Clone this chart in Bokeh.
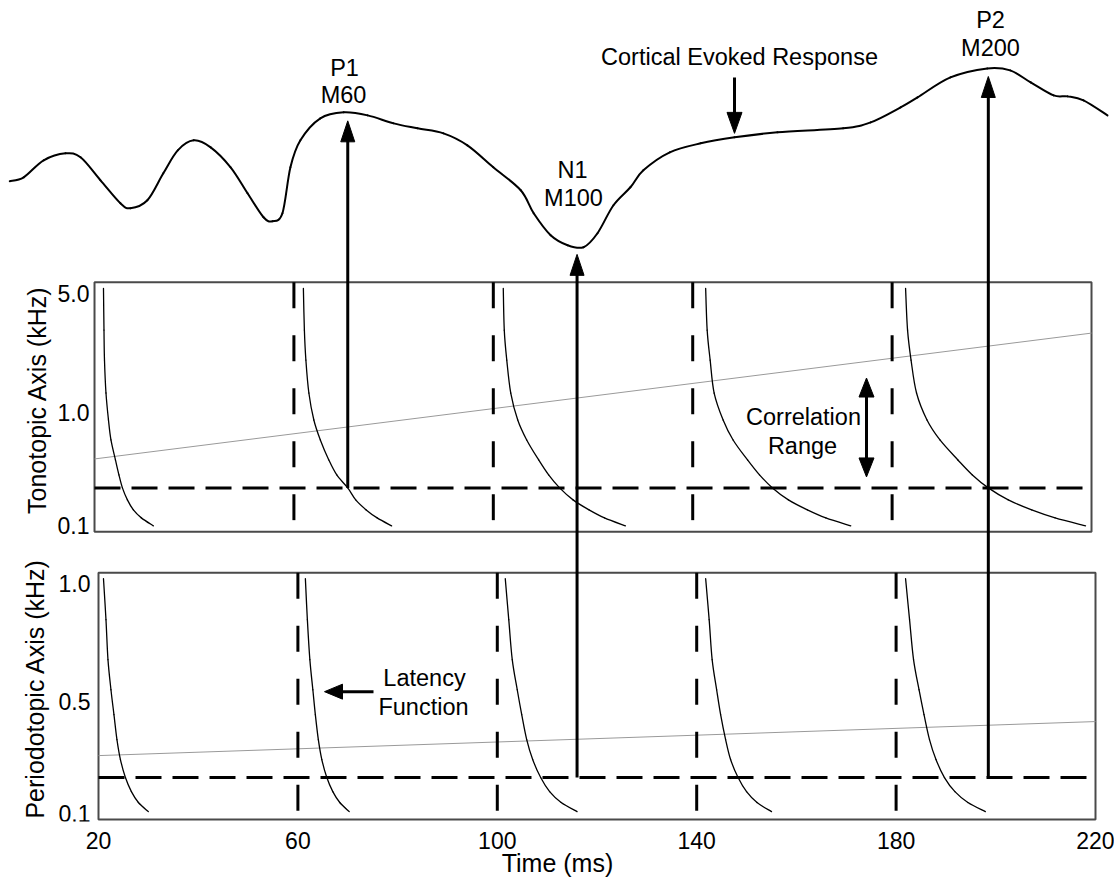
import numpy as np
from bokeh.plotting import figure
from bokeh.models import Range1d, FixedTicker
from bokeh.core.properties import value
from bokeh.embed import file_html
from bokeh.resources import INLINE

# ---------------- data ----------------
TIME_TICKS = [20, 60, 100, 140, 180, 220]
STIM_ONSETS = [60, 100, 140, 180]
TONO_TICK_LABELS = ["0.1", "1.0", "5.0"]
PERIO_TICK_LABELS = ["0.1", "0.5", "1.0"]
TONO_TITLE = "Tonotopic Axis (kHz)"
PERIO_TITLE = "Periodotopic Axis (kHz)"
TIME_TITLE = "Time (ms)"

# cortical evoked response (time in ms, amplitude in arbitrary units)
ERP_T = [2.2, 5.0, 9.0, 13.4, 16.4, 20.4, 24.4, 26.4, 29.8, 33.0, 35.9, 39.1, 42.5,
         46.5, 49.9, 53.1, 54.9, 56.9, 58.5, 60.5, 64.5, 69.2, 74.0, 79.2, 84.0,
         89.2, 94.0, 99.2, 104.7, 107.3, 110.7, 114.1, 117.3, 120.1, 123.3, 126.7,
         129.3, 134.6, 140.8, 147.6, 156.2, 169.4, 174.9, 180.9, 184.3, 190.9,
         198.3, 202.9, 207.0, 211.6, 214.4, 217.6, 222.4]
ERP_AMP = [1.9, 2.3, 4.0, 4.7, 4.3, 2.0, -0.3, -0.8, 0.0, 2.7, 5.0, 6.0, 5.3,
           3.3, 0.7, -1.7, -2.1, -1.3, 3.3, 6.0, 8.2, 8.8, 8.5, 7.7, 7.2,
           6.7, 5.5, 3.3, 1.0, -1.3, -3.5, -4.5, -4.7, -3.3, -0.5, 1.3,
           3.0, 4.8, 5.7, 6.3, 6.8, 7.2, 7.8, 9.3, 10.3, 12.3,
           13.2, 13.0, 11.8, 10.5, 10.4, 10.0, 8.5]

# peaks of the evoked response
PEAK_NAMES = ["P1", "N1", "P2"]
PEAK_MEG = ["M60", "M100", "M200"]
PEAK_TIMES = [70.0, 116.0, 198.5]
PEAK_SOURCE = ["tono", "perio", "perio"]

# latency functions: panel-relative level (0 bottom .. 1 top) vs latency (ms)
TONO_LEVELS = [0.975, 0.808, 0.688, 0.556, 0.448, 0.368, 0.288, 0.228, 0.176, 0.128, 0.088, 0.056, 0.024]
TONO_LAT_1 = [21.0, 21.1, 21.2, 21.5, 22.0, 22.5, 23.4, 24.1, 24.8, 25.8, 27.0, 28.6, 31.0]
TONO_LAT_2 = [61.1, 61.3, 61.6, 62.2, 63.2, 64.5, 66.2, 67.8, 70.0, 71.6, 73.7, 75.9, 78.8]
TONO_LAT_3 = [101.2, 101.4, 101.9, 102.7, 104.1, 105.9, 108.3, 110.3, 112.5, 115.2, 118.4, 121.5, 125.7]
TONO_LAT_4 = [141.8, 142.1, 142.7, 143.5, 145.3, 147.3, 150.2, 152.6, 155.2, 158.4, 162.2, 165.9, 170.9]
TONO_LAT_5 = [181.9, 182.3, 183.0, 184.1, 186.2, 188.8, 192.4, 195.3, 198.5, 202.5, 207.2, 211.9, 218.0]

PERIO_LEVELS = [0.976, 0.810, 0.648, 0.526, 0.425, 0.324, 0.243, 0.170, 0.113, 0.069, 0.032]
PERIO_LAT_1 = [21.0, 21.5, 21.9, 22.5, 23.1, 23.7, 24.4, 25.4, 26.6, 28.0, 30.0]
PERIO_LAT_2 = [61.5, 61.9, 62.4, 63.0, 63.5, 64.1, 64.8, 65.8, 67.0, 68.4, 70.3]
PERIO_LAT_3 = [101.6, 102.3, 103.0, 104.0, 104.9, 105.9, 107.1, 108.7, 110.5, 112.8, 116.0]
PERIO_LAT_4 = [141.8, 142.5, 143.1, 144.0, 144.8, 145.8, 146.8, 148.3, 150.0, 152.1, 155.0]
PERIO_LAT_5 = [181.9, 182.7, 183.5, 184.6, 185.6, 186.7, 188.0, 189.7, 191.8, 194.4, 197.9]

TONO_REF_LEVEL = 0.176
PERIO_REF_LEVEL = 0.170
TONO_TREND_T = [20, 220]
TONO_TREND_L = [0.292, 0.796]
PERIO_TREND_T = [20, 220]
PERIO_TREND_L = [0.259, 0.397]

# ---------------- layout (figure units: 1 y-unit = 1 px) ----------------
W, H = 1114, 879
BOTTOM = 57
FRAME_H = H - BOTTOM
PX_PER_MS = 4.985
X0 = 20 - 98 / PX_PER_MS
X1 = X0 + W / PX_PER_MS

ERP_Y0, ERP_K = FRAME_H - 200, 10.0
TONO_B, TONO_H, TONO_DX = FRAME_H - 532, 250, -0.8
PERIO_B, PERIO_H = FRAME_H - 820, 247
TICK_POS = [0.025, 0.477, 0.955]
FONT = value("Liberation Sans")


def ty(levels):
    return [TONO_B + l * TONO_H for l in levels]


def py(levels):
    return [PERIO_B + l * PERIO_H for l in levels]


def ey(amps):
    return [ERP_Y0 + a * ERP_K for a in amps]


def sy(pix):  # screen-pixel row -> figure units
    return FRAME_H - pix


def ms(pix):  # screen-pixel column -> ms
    return X0 + pix / PX_PER_MS


def smooth(fig, xs, ys, **kw):
    """Draw a smooth curve through the points with cubic Bezier segments."""
    x = np.asarray(xs, float)
    y = np.asarray(ys, float)
    xp = np.concatenate([[x[0]], x, [x[-1]]])
    yp = np.concatenate([[y[0]], y, [y[-1]]])
    n = len(x) - 1
    x0, y0, x1, y1 = x[:-1], y[:-1], x[1:], y[1:]
    cx0 = x0 + (xp[2:n + 2] - xp[0:n]) / 6.0
    cy0 = y0 + (yp[2:n + 2] - yp[0:n]) / 6.0
    cx1 = x1 - (xp[3:n + 3] - xp[1:n + 1]) / 6.0
    cy1 = y1 - (yp[3:n + 3] - yp[1:n + 1]) / 6.0
    fig.bezier(x0=x0, y0=y0, x1=x1, y1=y1, cx0=cx0, cy0=cy0, cx1=cx1, cy1=cy1,
               line_cap="round", **kw)


p = figure(width=W, height=H, output_backend="svg", toolbar_location=None,
           x_range=Range1d(X0, X1), y_range=Range1d(0, FRAME_H),
           y_axis_location=None, min_border_left=0, min_border_right=0,
           min_border_top=0, min_border_bottom=BOTTOM,
           background_fill_color="white", border_fill_color="white")
p.outline_line_color = None
p.grid.grid_line_color = None

ax = p.xaxis[0]
ax.ticker = FixedTicker(ticks=TIME_TICKS)
ax.axis_line_color = None
ax.major_tick_line_color = None
ax.minor_tick_line_color = None
ax.major_tick_out = 0
ax.major_tick_in = 0
ax.major_label_text_font = "Liberation Sans"
ax.major_label_text_font_size = "23px"
ax.major_label_text_color = "black"
ax.major_label_standoff = 10
ax.axis_label = TIME_TITLE
ax.axis_label_text_font = "Liberation Sans"
ax.axis_label_text_font_size = "25px"
ax.axis_label_text_font_style = "normal"
ax.axis_label_text_color = "black"
ax.axis_label_standoff = -3

# panel boxes
p.quad(left=[TIME_TICKS[0] + TONO_DX, TIME_TICKS[0]], right=[TIME_TICKS[-1] + TONO_DX, TIME_TICKS[-1]],
       bottom=[TONO_B, PERIO_B], top=[TONO_B + TONO_H, PERIO_B + PERIO_H],
       fill_color=None, line_color="#4a4a4a", line_width=2)

# trend lines (gray)
p.line([t + TONO_DX for t in TONO_TREND_T], ty(TONO_TREND_L), line_color="#9a9a9a", line_width=1)
p.line(PERIO_TREND_T, py(PERIO_TREND_L), line_color="#9a9a9a", line_width=1)

# dashed stimulus markers
p.multi_line([[t + TONO_DX, t + TONO_DX] for t in STIM_ONSETS],
             [[TONO_B + TONO_H, TONO_B] for _ in STIM_ONSETS],
             line_color="black", line_width=3, line_dash="26 27")
p.multi_line([[t, t] for t in STIM_ONSETS],
             [[PERIO_B + PERIO_H, PERIO_B] for _ in STIM_ONSETS],
             line_color="black", line_width=3, line_dash="26 27")
# dashed reference levels
p.line([TIME_TICKS[0] + TONO_DX, TIME_TICKS[-1] + TONO_DX], ty([TONO_REF_LEVEL] * 2),
       line_color="black", line_width=3, line_dash="26 11")
p.line([TIME_TICKS[0], TIME_TICKS[-1]], py([PERIO_REF_LEVEL] * 2),
       line_color="black", line_width=3, line_dash="26 11")

# latency functions
for lat in [TONO_LAT_1, TONO_LAT_2, TONO_LAT_3, TONO_LAT_4, TONO_LAT_5]:
    smooth(p, lat, ty(TONO_LEVELS), line_color="black", line_width=1.3)
for lat in [PERIO_LAT_1, PERIO_LAT_2, PERIO_LAT_3, PERIO_LAT_4, PERIO_LAT_5]:
    smooth(p, lat, py(PERIO_LEVELS), line_color="black", line_width=1.3)

# evoked response
smooth(p, ERP_T, ey(ERP_AMP), line_color="black", line_width=2)


# arrows
def head(tip_x, tip_y, direction, length=21, width=14):
    hw = width / 2.0
    if direction == "up":
        return [tip_x - hw / PX_PER_MS, tip_x + hw / PX_PER_MS, tip_x], [tip_y - length, tip_y - length, tip_y]
    if direction == "down":
        return [tip_x - hw / PX_PER_MS, tip_x + hw / PX_PER_MS, tip_x], [tip_y + length, tip_y + length, tip_y]
    return [tip_x + length / PX_PER_MS, tip_x + length / PX_PER_MS, tip_x], [tip_y - hw, tip_y + hw, tip_y]


hx, hy = [], []
sx0, sy0, sx1, sy1 = [], [], [], []
peak_amp = np.interp(PEAK_TIMES, ERP_T, ERP_AMP)
for t, a, src in zip(PEAK_TIMES, peak_amp, PEAK_SOURCE):
    base = ty([TONO_REF_LEVEL])[0] if src == "tono" else py([PERIO_REF_LEVEL])[0]
    tip = ey([a])[0] - 8
    sx0.append(t); sy0.append(base); sx1.append(t); sy1.append(tip - 10)
    xs, ys = head(t, tip, "up")
    hx.append(xs); hy.append(ys)

# "Cortical Evoked Response" pointer
ce_t = ms(734)
ce_tip = ey([np.interp(ce_t, ERP_T, ERP_AMP)])[0] + 4
sx0.append(ce_t); sy0.append(sy(77)); sx1.append(ce_t); sy1.append(ce_tip + 10)
xs, ys = head(ce_t, ce_tip, "down", 21, 15); hx.append(xs); hy.append(ys)

# correlation range double arrow
cr_t = ms(866)
sx0.append(cr_t); sy0.append(sy(378) - 10); sx1.append(cr_t); sy1.append(sy(477) + 10)
xs, ys = head(cr_t, sy(378), "up", 19, 15); hx.append(xs); hy.append(ys)
xs, ys = head(cr_t, sy(477), "down", 19, 15); hx.append(xs); hy.append(ys)

# latency function pointer
lf_tip = ms(324)
sx0.append(ms(373)); sy0.append(sy(692)); sx1.append(lf_tip + 10 / PX_PER_MS); sy1.append(sy(692))
xs, ys = head(lf_tip, sy(692), "left", 18, 15); hx.append(xs); hy.append(ys)

p.segment(sx0, sy0, sx1, sy1, line_color="black", line_width=3, line_cap="butt")
p.patches(hx, hy, fill_color="black", line_color="black", line_width=1)

# annotation texts
txt_kw = dict(text_font=FONT, text_font_size="23.5px", text_color="black",
              text_align="center", text_baseline="middle")
p.text([ms(344), ms(572), ms(990)], [sy(68), sy(170), sy(20)], text=PEAK_NAMES, **txt_kw)
p.text([ms(343), ms(573), ms(990)], [sy(95), sy(198), sy(48)], text=PEAK_MEG, **txt_kw)
p.text([ms(739)], [sy(57)], text=["Cortical Evoked Response"], **txt_kw)
p.text([ms(803), ms(802)], [sy(417), sy(446)], text=["Correlation", "Range"], **txt_kw)
p.text([ms(424), ms(423)], [sy(678), sy(707)], text=["Latency", "Function"], **txt_kw)

# y tick labels
tick_kw = dict(text_font=FONT, text_font_size="23px", text_color="black",
               text_align="right", text_baseline="middle")
p.text([ms(89)] * 3, ty(TICK_POS), text=TONO_TICK_LABELS, **tick_kw)
p.text([ms(90)] * 3, py(TICK_POS), text=PERIO_TICK_LABELS, **tick_kw)

# y axis titles
title_kw = dict(text_font=FONT, text_font_size="25px", text_color="black",
                text_align="center", text_baseline="middle", angle=np.pi / 2)
p.text([ms(36)], [sy(400)], text=[TONO_TITLE], **title_kw)
p.text([ms(34)], [sy(689)], text=[PERIO_TITLE], **title_kw)

open("out.html", "w").write(file_html(p, INLINE))
